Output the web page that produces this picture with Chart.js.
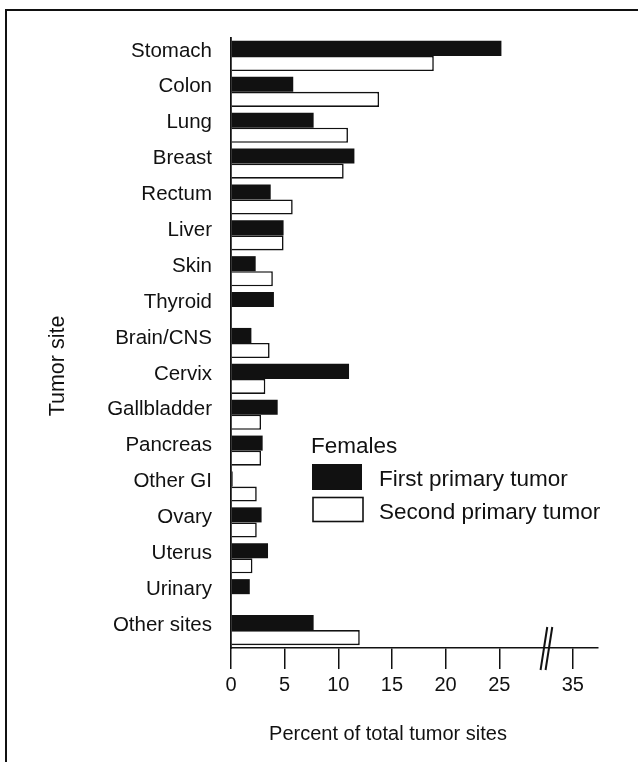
<!DOCTYPE html>
<html><head><meta charset="utf-8">
<script src="https://cdn.jsdelivr.net/npm/chart.js@4"></script>
<style>html,body{margin:0;padding:0;background:#fff}canvas{display:block}</style>
</head><body>
<canvas id="c" width="638" height="762"></canvas>
<script>
const categories = ["Stomach","Colon","Lung","Breast","Rectum","Liver","Skin","Thyroid","Brain/CNS","Cervix","Gallbladder","Pancreas","Other GI","Ovary","Uterus","Urinary","Other sites"];
const firstPrimary  = [25.2, 5.8, 7.7, 11.5, 3.7, 4.9, 2.3, 4.0, 1.9, 11.0, 4.35, 2.95, 0.15, 2.85, 3.45, 1.75, 7.7];
const secondPrimary = [18.9, 13.8, 10.9, 10.5, 5.75, 4.9, 3.9, 0, 3.6, 3.2, 2.8, 2.8, 2.4, 2.4, 2.0, 0, 12.0];
const tickValues = [0, 5, 10, 15, 20, 25, 35];
const legendTitle = "Females";
const seriesNames = ["First primary tumor", "Second primary tumor"];
const xTitle = "Percent of total tumor sites";
const yTitle = "Tumor site";

// broken axis: values beyond the break are shifted left
const BREAK_AT = 29;
const BREAK_SHIFT = 3.15;
function toAxis(v){ return v > BREAK_AT ? v - BREAK_SHIFT : v; }

const FONT = "'Liberation Sans', Arial, Helvetica, sans-serif";
const INK = '#111';

const decor = {
  id: 'decor',
  beforeDraw(chart){
    const c = chart.ctx;
    c.save();
    c.fillStyle = '#fff';
    c.fillRect(0,0,chart.width,chart.height);
    c.strokeStyle = INK; c.lineWidth = 2;
    c.beginPath();
    c.moveTo(6, chart.height); c.lineTo(6, 10); c.lineTo(chart.width, 10);
    c.stroke();
    c.restore();
  },
  afterDraw(chart){
    const c = chart.ctx;
    const xs = chart.scales.x;
    const ay = chart.chartArea.bottom;
    c.save();
    // axis break marks
    const bx = xs.getPixelForValue(BREAK_AT + 0.1);
    c.strokeStyle = INK; c.lineWidth = 2;
    [[-2.7, 4.0],[2.3, 9.0]].forEach(([b,t])=>{
      c.beginPath(); c.moveTo(bx + b, ay + 22); c.lineTo(bx + t, ay - 21); c.stroke();
    });
    // legend
    c.fillStyle = INK;
    c.font = "22.5px " + FONT;
    c.textAlign = 'left'; c.textBaseline = 'alphabetic';
    c.fillText(legendTitle, 311, 453);
    c.fillRect(312, 464, 50, 26);
    c.fillText(seriesNames[0], 379, 486);
    c.lineWidth = 1.6;
    c.strokeRect(313, 497.5, 50, 24);
    c.fillText(seriesNames[1], 379, 519);
    // axis titles
    c.font = "20px " + FONT;
    c.textAlign = 'center';
    c.fillText(xTitle, 388, 740);
    c.save();
    c.translate(63.5, 366);
    c.rotate(-Math.PI/2);
    c.font = "21.5px " + FONT;
    c.fillText(yTitle, 0, 0);
    c.restore();
    c.restore();
  }
};

new Chart(document.getElementById('c').getContext('2d'), {
  type: 'bar',
  data: {
    labels: categories,
    datasets: [
      { label: seriesNames[0], data: firstPrimary, backgroundColor: INK, borderWidth: 0,
        categoryPercentage: 0.84, barPercentage: 1 },
      { label: seriesNames[1], data: secondPrimary, backgroundColor: '#fff', borderColor: INK, borderWidth: 1.6,
        categoryPercentage: 0.84, barPercentage: 1 }
    ]
  },
  options: {
    indexAxis: 'y',
    responsive: false,
    animation: false,
    devicePixelRatio: 1,
    layout: { padding: { top: 38, right: 40, left: 0, bottom: 0 } },
    plugins: { legend: { display: false }, tooltip: { enabled: false } },
    scales: {
      x: {
        type: 'linear', min: 0, max: 34.2,
        afterBuildTicks: (s) => { s.ticks = tickValues.map(v => ({ value: toAxis(v) })); },
        afterFit: (s) => { s.height = 114; },
        ticks: { color: INK, font: { size: 20, family: FONT }, padding: 4, maxRotation: 0, autoSkip: false,
                 callback: (v, i) => String(tickValues[i]) },
        grid: { drawOnChartArea: false, drawTicks: true, tickLength: 21, color: INK, lineWidth: 1.5 },
        border: { display: true, color: INK, width: 1.5 }
      },
      y: {
        afterFit: (s) => { s.width = 231; },
        ticks: { color: INK, font: { size: 20.5, family: FONT }, padding: 19, labelOffset: -5, autoSkip: false },
        grid: { drawOnChartArea: false, drawTicks: false, color: INK },
        border: { display: true, color: INK, width: 1.8 }
      }
    }
  },
  plugins: [decor]
});
</script>
</body></html>
